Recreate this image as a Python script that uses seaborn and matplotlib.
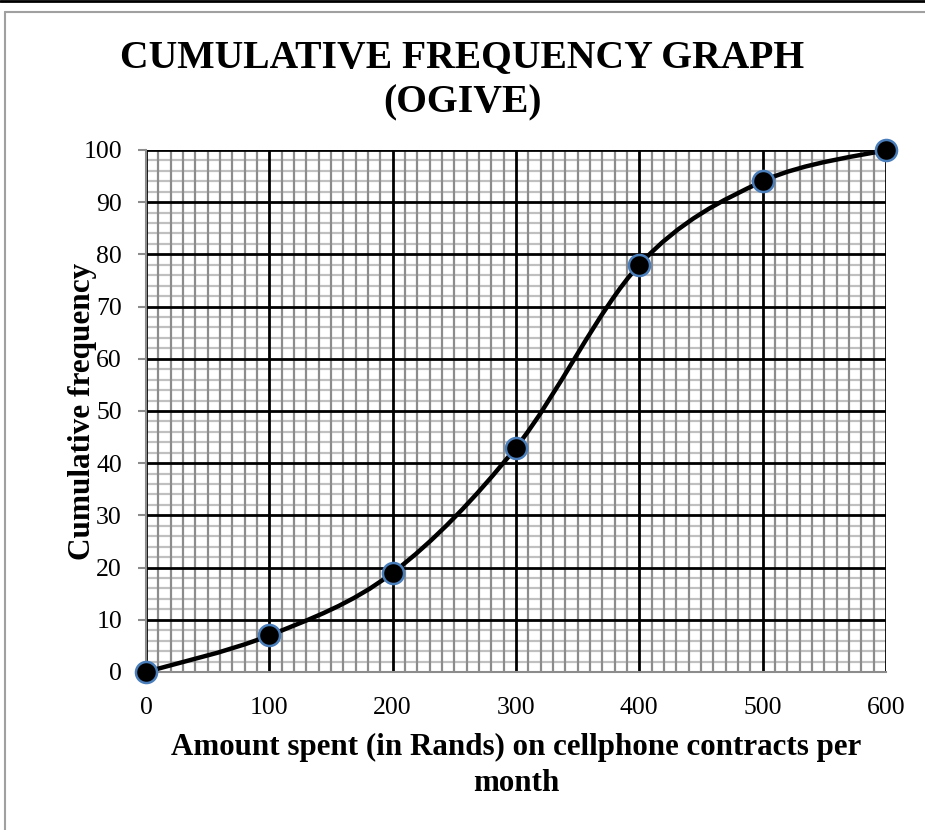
import matplotlib.pyplot as plt
import seaborn as sns
import numpy as np
from matplotlib.path import Path
from matplotlib.patches import PathPatch
from matplotlib.lines import Line2D
from matplotlib.ticker import MultipleLocator

amount = [0, 100, 200, 300, 400, 500, 600]
cum_freq = [0, 7, 19, 43, 78, 94, 100]

title = "CUMULATIVE FREQUENCY GRAPH\n(OGIVE)"
xlabel = "Amount spent (in Rands) on cellphone contracts per\nmonth"
ylabel = "Cumulative frequency"

sns.set_style("white")
plt.rcParams["font.family"] = ["Liberation Serif", "DejaVu Serif"]
plt.rcParams["text.color"] = "black"
plt.rcParams["axes.labelcolor"] = "black"
plt.rcParams["xtick.color"] = "black"
plt.rcParams["ytick.color"] = "black"

fig = plt.figure(figsize=(9.25, 8.3), dpi=100)
ax = fig.add_axes([0.1578, 0.1904, 0.8, 0.6289])

ax.set_xlim(0, 600)
ax.set_ylim(0, 100)
ax.xaxis.set_major_locator(MultipleLocator(100))
ax.xaxis.set_minor_locator(MultipleLocator(10))
ax.yaxis.set_major_locator(MultipleLocator(10))
ax.yaxis.set_minor_locator(MultipleLocator(2))

# graph-paper grid: light horizontal minors, darker vertical minors, black majors
ax.hlines(ax.yaxis.get_minorticklocs(), 0, 600, color="#c0c0c0", lw=1.6, zorder=0.5)
ax.vlines(ax.xaxis.get_minorticklocs(), 0, 100, color="#8c8c8c", lw=1.6, zorder=0.6)
ax.hlines(ax.get_yticks(), 0, 600, color="black", lw=2.0, zorder=0.8)
ax.vlines(ax.get_xticks(), 0, 100, color="black", lw=2.0, zorder=0.8)

# smoothed line like a spreadsheet "smooth line" (Catmull-Rom drawn as bezier path)
pts = np.column_stack([amount, cum_freq]).astype(float)
verts = [pts[0]]
codes = [Path.MOVETO]
n = len(pts)
for i in range(n - 1):
    p0 = pts[i - 1] if i > 0 else pts[i]
    p1, p2 = pts[i], pts[i + 1]
    p3 = pts[i + 2] if i + 2 < n else pts[i + 1]
    c1 = p1 + (p2 - p0) / 6.0
    c2 = p2 - (p3 - p1) / 6.0
    verts += [c1, c2, p2]
    codes += [Path.CURVE4] * 3
ax.add_patch(PathPatch(Path(verts, codes), facecolor="none", edgecolor="black",
                       lw=3.2, zorder=3, clip_on=False))

sns.scatterplot(x=amount, y=cum_freq, ax=ax, s=230, color="black",
                edgecolor="#4a7ebb", linewidth=1.8, zorder=4, clip_on=False)

ax.set_xlim(0, 600)
ax.set_ylim(0, 100)

for side in ["top", "right"]:
    ax.spines[side].set_visible(False)
ax.spines["left"].set_color("#8c8c8c")
ax.spines["left"].set_linewidth(1.5)
ax.spines["bottom"].set_color("#8c8c8c")
ax.spines["bottom"].set_linewidth(1.5)

ax.tick_params(axis="y", which="major", length=5.8, color="#8c8c8c", width=1.5,
               labelsize=18.5, pad=11.5, left=True)
ax.tick_params(axis="x", which="major", length=0, labelsize=18.5, pad=18)
ax.tick_params(which="minor", length=0)

fig.suptitle(title, x=0.5, y=0.953, fontsize=28.5, fontweight="bold",
             linespacing=1.3, va="top")
ax.set_xlabel(xlabel, fontsize=22.3, fontweight="bold", labelpad=10, linespacing=1.3)
ax.set_ylabel(ylabel, fontsize=22.5, fontweight="bold")
ax.yaxis.set_label_coords(-0.066, 0.5)

# outer frame bits
fig.add_artist(Line2D([0, 1], [0.9985, 0.9985], color="black", lw=2.0,
                      transform=fig.transFigure))
fig.add_artist(Line2D([0.0055, 1], [0.986, 0.986], color="#a0a0a0", lw=1.5,
                      transform=fig.transFigure))
fig.add_artist(Line2D([0.0055, 0.0055], [0, 0.986], color="#a0a0a0", lw=1.5,
                      transform=fig.transFigure))

plt.savefig("out.png", dpi=100)
